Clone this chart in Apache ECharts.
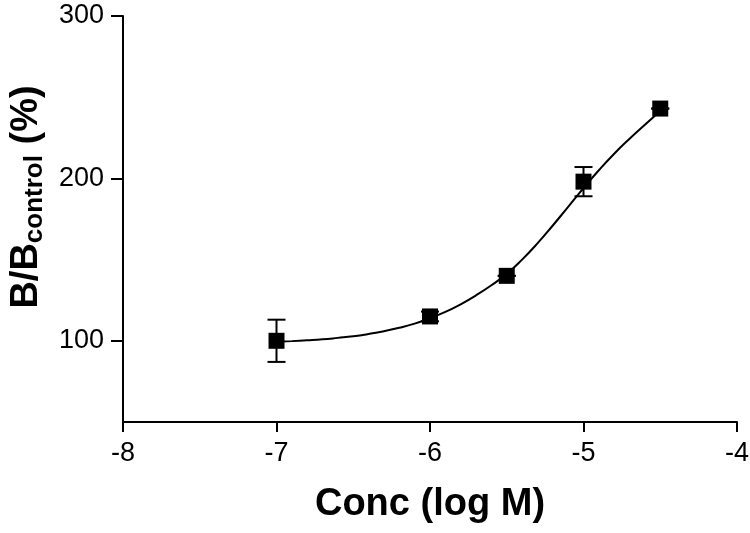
<!DOCTYPE html>
<html>
<head>
<meta charset="utf-8">
<script src="https://cdn.jsdelivr.net/npm/echarts@6/dist/echarts.min.js"></script>
<style>
  html, body { margin: 0; padding: 0; background: #fff; }
  #chart { width: 750px; height: 533px; }
</style>
</head>
<body>
<div id="chart"></div>
<script>
// measured points (mean +- error)
var concX = [-7, -6, -5.5, -5, -4.5];
var ratioY = [100, 115, 140, 198, 243];
var ratioErr = [13, 3, 0, 9, 0];

// fitted curve
var curveX = [-7.0, -6.9, -6.8, -6.7, -6.6, -6.5, -6.4, -6.3, -6.2, -6.1, -6.0,
  -5.9, -5.8, -5.7, -5.6, -5.5, -5.4, -5.3, -5.2, -5.1, -5.0,
  -4.9, -4.8, -4.7, -4.6, -4.5];
var curveY = [99.4, 99.8, 100.3, 100.9, 101.8, 102.8, 104.2, 105.9, 108.0, 110.6, 114.0,
  117.8, 122.5, 128.0, 134.2, 141.2, 150.0, 160.0, 171.0, 182.5, 194.0,
  205.0, 215.2, 224.4, 233.0, 241.5];

var xTicks = [-8, -7, -6, -5, -4];
var yTicks = [100, 200, 300];

var chart = echarts.init(document.getElementById('chart'));

var pts = concX.map(function (x, i) { return [x, ratioY[i]]; });
var errData = concX.map(function (x, i) { return [x, ratioY[i] - ratioErr[i], ratioY[i] + ratioErr[i]]; });
var curve = curveX.map(function (x, i) { return [x, curveY[i]]; });

var font = 'Liberation Sans, Arial, sans-serif';

var option = {
  backgroundColor: '#fff',
  animation: false,
  grid: { left: 123, right: 13, top: 16, bottom: 111, outerBoundsMode: 'none', containLabel: false },
  xAxis: {
    type: 'value',
    min: -8, max: -4, interval: 1,
    splitLine: { show: false },
    axisLine: { onZero: false, lineStyle: { color: '#000', width: 2 } },
    axisTick: { length: 10, lineStyle: { color: '#000', width: 2 } },
    axisLabel: { color: '#000', fontSize: 27, fontFamily: font, margin: 18, customValues: xTicks },
    name: 'Conc (log M)',
    nameLocation: 'middle',
    nameGap: 64,
    nameTextStyle: { color: '#000', fontSize: 38, fontWeight: 'bold', fontFamily: font }
  },
  yAxis: {
    type: 'value',
    min: 50, max: 300,
    splitLine: { show: false },
    axisLine: { onZero: false, lineStyle: { color: '#000', width: 2 } },
    axisTick: { length: 12, lineStyle: { color: '#000', width: 2 }, customValues: yTicks },
    axisLabel: { color: '#000', fontSize: 27, fontFamily: font, margin: 19, customValues: yTicks },
    name: '{m|B/B}{s|control}{m| (%)}',
    nameLocation: 'middle',
    nameRotate: 90,
    nameGap: 74,
    nameTextStyle: {
      color: '#000', fontFamily: font,
      padding: [0, 0, 0, 44],
      rich: {
        m: { fontSize: 38, fontWeight: 'bold', fontFamily: font, color: '#000', lineHeight: 44 },
        s: { fontSize: 26, fontWeight: 'bold', fontFamily: font, color: '#000', lineHeight: 44, padding: [18, 0, 0, 0] }
      }
    }
  },
  series: [
    {
      type: 'line',
      data: curve,
      smooth: true,
      showSymbol: false,
      lineStyle: { color: '#000', width: 2 },
      z: 2
    },
    {
      type: 'custom',
      data: errData,
      z: 3,
      renderItem: function (params, api) {
        var x = api.value(0);
        var lo = api.coord([x, api.value(1)]);
        var hi = api.coord([x, api.value(2)]);
        var w = 9;
        var st = { stroke: '#000', lineWidth: 2 };
        return {
          type: 'group',
          children: [
            { type: 'line', shape: { x1: lo[0], y1: lo[1], x2: hi[0], y2: hi[1] }, style: st },
            { type: 'line', shape: { x1: lo[0] - w, y1: lo[1], x2: lo[0] + w, y2: lo[1] }, style: st },
            { type: 'line', shape: { x1: hi[0] - w, y1: hi[1], x2: hi[0] + w, y2: hi[1] }, style: st }
          ]
        };
      }
    },
    {
      type: 'scatter',
      data: pts,
      symbol: 'rect',
      symbolSize: 16,
      itemStyle: { color: '#000', opacity: 1 },
      z: 4
    }
  ]
};

chart.setOption(option);
</script>
</body>
</html>
